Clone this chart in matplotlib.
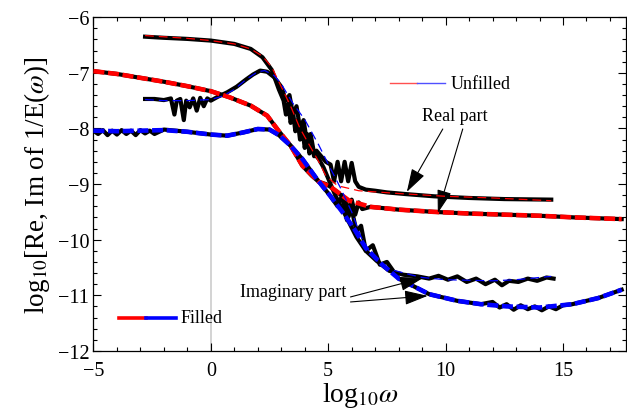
import matplotlib
matplotlib.use('Agg')
import matplotlib.pyplot as plt
from matplotlib.ticker import MultipleLocator

plt.rcParams['font.family'] = ['Liberation Serif', 'DejaVu Serif']
plt.rcParams['mathtext.fontset'] = 'stix'

# ── data (log10 omega, log10 value) ───────────────────────────────────────
# filled, real part: model (red) and measured (black)
fr_x = [-5.0, -4.0, -3.0, -2.0, -1.0, 0.0, 0.8, 1.7, 2.4, 2.9, 3.4, 3.9, 4.6,
        5.1, 5.9, 6.8, 8.0, 9.5, 11.0, 12.5, 14.0, 15.5, 17.5]
fr_y = [-6.97, -7.02, -7.09, -7.16, -7.24, -7.33, -7.44, -7.59, -7.77, -8.05,
        -8.31, -8.67, -8.96, -9.05, -9.3, -9.41, -9.46, -9.5, -9.53, -9.55,
        -9.57, -9.6, -9.63]
fr_data_x = [-5.0, -4.0, -3.0, -2.0, -1.0, 0.0, 0.8, 1.7, 2.4, 2.9, 3.4, 3.9,
             4.3, 4.6, 4.9, 5.1, 5.4, 5.7, 5.85, 6.0, 6.15, 6.3, 6.45, 6.8,
             8.0, 9.5, 11.0, 12.5, 14.0, 15.5, 17.5]
fr_data_y = [-6.97, -7.02, -7.09, -7.16, -7.24, -7.33, -7.44, -7.59, -7.77,
             -8.05, -8.31, -8.67, -8.85, -8.96, -9.0, -9.05, -9.15, -9.25,
             -9.5, -9.28, -9.55, -9.33, -9.45, -9.41, -9.46, -9.5, -9.53,
             -9.55, -9.57, -9.6, -9.63]

# filled, imaginary part
fi_x = [-5.0, -4.0, -3.0, -2.0, -1.0, 0.0, 0.7, 1.4, 2.0, 2.5, 2.9, 3.4, 3.9,
        4.5, 5.1, 5.6, 6.1, 6.6, 7.3, 8.0, 9.3, 10.5, 11.5, 12.6, 14.0, 15.4,
        16.5, 17.5]
fi_y = [-8.04, -8.05, -8.04, -8.03, -8.06, -8.11, -8.13, -8.07, -8.01, -8.02,
        -8.12, -8.31, -8.55, -8.9, -9.22, -9.5, -9.8, -10.15, -10.45, -10.7,
        -10.98, -11.1, -11.16, -11.2, -11.22, -11.16, -11.05, -10.9]
fi_data_x = [-5.0, -4.8, -4.6, -4.4, -4.2, -4.0, -3.8, -3.6, -3.4, -3.2, -3.0,
             -2.8, -2.6, -2.4, -2.0, -1.0, 0.0, 0.7, 1.4, 2.0, 2.5, 2.9, 3.4,
             3.9, 4.5, 5.1, 5.4, 5.6, 5.8, 6.0, 6.2, 6.4, 6.6, 6.9, 7.2, 7.5,
             8.0, 9.3, 10.5, 11.5, 12.0, 12.3, 12.6, 12.9, 13.2, 13.5, 13.8,
             14.1, 14.4, 14.7, 15.0, 15.4, 16.5, 17.5]
fi_data_y = [-8.04, -8.1, -8.03, -8.12, -8.04, -8.11, -8.03, -8.1, -8.04,
             -8.12, -8.03, -8.09, -8.04, -8.1, -8.02, -8.06, -8.11, -8.13,
             -8.07, -8.01, -8.02, -8.12, -8.31, -8.55, -8.9, -9.22, -9.4,
             -9.2, -9.65, -9.45, -9.85, -9.75, -10.2, -10.1, -10.45, -10.4,
             -10.7, -10.98, -11.1, -11.16, -11.12, -11.22, -11.16, -11.26,
             -11.18, -11.25, -11.2, -11.27, -11.2, -11.25, -11.18, -11.16,
             -11.05, -10.9]

# unfilled, real part
ur_x = [-2.8, -1.0, 0.0, 1.0, 1.7, 2.2, 2.6, 3.0, 3.4, 3.8, 4.2, 4.6, 4.9,
        5.4, 6.3, 8.0, 10.0, 12.0, 14.5]
ur_y = [-6.33, -6.38, -6.42, -6.48, -6.57, -6.7, -6.9, -7.25, -7.6, -8.0,
        -8.3, -8.6, -8.85, -9.03, -9.12, -9.17, -9.22, -9.25, -9.3]
ur_data_x = [-2.8, -2.0, -1.0, 0.0, 1.0, 1.7, 2.2, 2.6, 2.9, 3.1, 3.2, 3.3,
             3.4, 3.5, 3.6, 3.7, 3.8, 3.9, 4.0, 4.1, 4.2, 4.3, 4.4, 4.5, 4.7,
             4.9, 5.1, 5.25, 5.4, 5.55, 5.7, 5.85, 6.0, 6.15, 6.3, 6.6, 7.0,
             7.5, 8.3, 9.5, 11.0, 12.5, 14.5]
ur_data_y = [-6.35, -6.37, -6.39, -6.42, -6.48, -6.57, -6.72, -6.95, -7.3,
             -7.5, -7.75, -7.55, -7.9, -7.7, -8.05, -7.85, -8.2, -8.0, -8.35,
             -8.1, -8.45, -8.3, -8.5, -8.4, -8.5, -8.6, -8.65, -8.95, -8.6,
             -8.95, -8.6, -8.95, -8.62, -8.95, -9.05, -9.1, -9.12, -9.15,
             -9.18, -9.22, -9.25, -9.27, -9.28]

# unfilled, imaginary part
ui_x = [-2.8, -2.0, -1.0, 0.0, 0.5, 1.0, 1.5, 2.0, 2.3, 2.7, 3.0, 3.5, 4.0,
        4.6, 5.07, 5.5, 6.0, 6.4, 6.8, 7.1, 7.6, 8.5, 9.0, 10.0, 11.0, 12.0,
        13.0, 14.0, 14.5]
ui_y = [-7.48, -7.5, -7.5, -7.48, -7.42, -7.3, -7.12, -6.98, -6.96, -7.05,
        -7.2, -7.55, -7.84, -8.3, -8.7, -9.05, -9.5, -9.95, -10.25, -10.38,
        -10.53, -10.63, -10.68, -10.72, -10.73, -10.74, -10.72, -10.68,
        -10.66]
ui_data_x = [-2.8, -2.4, -2.0, -1.7, -1.55, -1.45, -1.3, -1.15, -1.05, -0.9,
             -0.75, -0.6, -0.45, -0.3, -0.15, 0.0, 0.3, 0.7, 1.1, 1.5, 1.8,
             2.1, 2.4, 2.7, 3.0, 3.2, 3.35, 3.5, 3.65, 3.8, 3.95, 4.1, 4.25,
             4.4, 4.6, 4.8, 5.0, 5.3, 5.6, 5.9, 6.2, 6.6, 7.06, 7.6, 8.2, 8.8,
             9.3, 9.7, 10.1, 10.5, 10.9, 11.3, 11.7, 12.1, 12.4, 12.7, 13.1,
             13.5, 13.9, 14.3, 14.6]
ui_data_y = [-7.47, -7.47, -7.49, -7.46, -7.75, -7.5, -7.47, -7.85, -7.5,
             -7.62, -7.46, -7.68, -7.45, -7.6, -7.46, -7.5, -7.43, -7.35,
             -7.25, -7.12, -7.03, -6.96, -6.98, -7.08, -7.25, -7.5, -7.4,
             -7.75, -7.6, -8.0, -7.85, -8.25, -8.1, -8.45, -8.55, -8.7, -8.9,
             -9.2, -9.45, -9.7, -9.95, -10.2, -10.38, -10.56, -10.63, -10.66,
             -10.7, -10.65, -10.72, -10.66, -10.76, -10.7, -10.8, -10.72,
             -10.82, -10.74, -10.76, -10.7, -10.74, -10.68, -10.7]

fig = plt.figure(figsize=(6.27, 4.14), dpi=100)
ax = fig.add_axes([0.149, 0.15, 0.85, 0.806])

ax.axvline(0, color='#cccccc', lw=1.2, zorder=0)

# measured data (black, thick) underneath the model curves
for xs, ys in [(ur_data_x, ur_data_y), (ui_data_x, ui_data_y),
               (fr_data_x, fr_data_y), (fi_data_x, fi_data_y)]:
    ax.plot(xs, ys, color='black', lw=3.0, solid_joinstyle='round', zorder=2)

# filled: thick dashed
ax.plot(fr_x, fr_y, color='red', lw=3.3, dashes=(2.4, 0.8), zorder=3)
ax.plot(fi_x, fi_y, color='blue', lw=3.3, dashes=(2.4, 0.8), zorder=3)
# unfilled: thin dashed
ax.plot(ur_x, ur_y, color='red', lw=0.9, dashes=(7, 4), zorder=4)
ax.plot(ui_x, ui_y, color='blue', lw=0.9, dashes=(7, 4), zorder=4)

# hand-made legends
ax.plot([0.557, 0.608], [0.802, 0.802], color='#ff5050', lw=1.0, transform=ax.transAxes)
ax.plot([0.608, 0.660], [0.802, 0.802], color='#5050ff', lw=1.0, transform=ax.transAxes)
ax.text(0.670, 0.802, "Unfilled", transform=ax.transAxes, fontsize=13,
        va='center', ha='left')
ax.plot([0.048, 0.099], [0.10, 0.10], color='red', lw=2.6, transform=ax.transAxes)
ax.plot([0.099, 0.155], [0.10, 0.10], color='blue', lw=2.6, transform=ax.transAxes)
ax.text(0.163, 0.10, "Filled", transform=ax.transAxes, fontsize=13,
        va='center', ha='left')

# annotations
arrow = dict(arrowstyle='-|>,head_length=0.9,head_width=0.28', color='black',
             lw=0.8, mutation_scale=16, shrinkA=0, shrinkB=0)
ax.text(10.4, -7.77, "Real part", fontsize=13, ha='center', va='center')
ax.annotate("", xy=(8.35, -9.14), xytext=(9.88, -8.01), arrowprops=arrow)
ax.annotate("", xy=(9.67, -9.52), xytext=(10.73, -8.01), arrowprops=arrow)
ax.text(3.5, -10.94, "Imaginary part", fontsize=13, ha='center', va='center')
ax.annotate("", xy=(9.03, -10.69), xytext=(5.95, -11.03), arrowprops=arrow)
ax.annotate("", xy=(9.24, -11.01), xytext=(5.95, -11.12), arrowprops=arrow)

ax.set_xlim(-5, 17.7)
ax.set_ylim(-12, -6)
ax.xaxis.set_major_locator(MultipleLocator(5))
ax.xaxis.set_minor_locator(MultipleLocator(1))
ax.yaxis.set_major_locator(MultipleLocator(1))
ax.yaxis.set_minor_locator(MultipleLocator(0.2))
ax.tick_params(which='both', direction='in', top=True, right=True,
               labelsize=14.5, width=0.8)
ax.tick_params(which='major', length=6)
ax.tick_params(which='minor', length=3)
ax.tick_params(axis='y', pad=3)
ax.tick_params(axis='x', pad=7)
for sp in ax.spines.values():
    sp.set_linewidth(0.9)

ax.set_xlabel(r"log$_{10}\omega$", fontsize=20, labelpad=0)
ax.set_ylabel(r"log$_{10}$[Re, Im of 1/E($\omega$)]", fontsize=19.5, labelpad=4)

fig.savefig("out.png", dpi=100)
